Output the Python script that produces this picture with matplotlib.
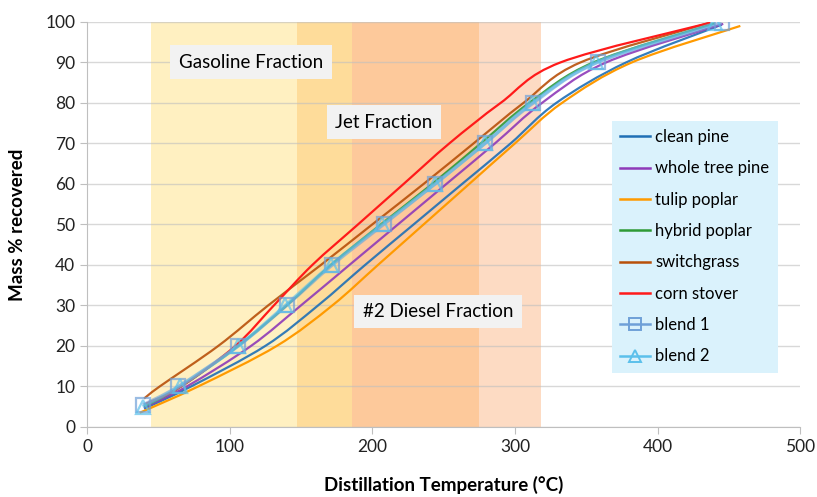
import numpy as np
import matplotlib.pyplot as plt
from matplotlib.path import Path
from matplotlib.patches import PathPatch
from matplotlib.lines import Line2D

plt.rcParams['font.family'] = ['Lato', 'DejaVu Sans']

# Mass % recovered levels
pct = [5, 10, 20, 30, 40, 50, 60, 70, 80, 90, 99.5]

# Distillation temperature (°C) at each level
clean_pine = [40, 73, 125, 162, 195, 229, 263, 297, 329, 378, 445]
whole_tree_pine = [40, 70, 115, 150, 184, 218, 252, 286, 319, 364, 446]
tulip_poplar = [37, 78, 133, 172, 204, 236, 268, 300, 333, 382, 458]
hybrid_poplar = [40, 66, 106, 140, 171, 206, 242, 276, 310, 355, 440]
switchgrass = [40, 51, 92, 127, 164, 200, 236, 271, 306, 346, 437]
corn_stover = [40, 66, 104, 131, 158, 190, 222, 254, 290, 332, 437]
blend_1 = [39, 64, 106, 140, 172, 208, 244, 279, 313, 358, 445]
blend_2 = [39, 65, 106, 139, 171, 207, 244, 279, 312, 357, 440]

# first / last recovered % differ a little per series
pct_start = {'clean pine': 4.5, 'whole tree pine': 4.8, 'tulip poplar': 3.5,
             'hybrid poplar': 5.0, 'switchgrass': 7.0, 'corn stover': 5.5,
             'blend 1': 5.4, 'blend 2': 5.0}
pct_end = {'clean pine': 99.3, 'whole tree pine': 99.5, 'tulip poplar': 99.0,
           'hybrid poplar': 99.6, 'switchgrass': 99.8, 'corn stover': 99.8,
           'blend 1': 99.7, 'blend 2': 99.6}

# fraction bands (°C)
bands = [(45, 147, '#FFF0C1'), (147, 186, '#FEDC9A'),
         (186, 275, '#FDC99B'), (275, 318, '#FDDBC3')]


def smooth_path(xs, ys):
    # Excel-like smoothed line: Catmull-Rom converted to cubic Beziers
    pts = np.column_stack([xs, ys]).astype(float)
    n = len(pts)
    verts = [pts[0]]
    codes = [Path.MOVETO]
    for i in range(n - 1):
        p0 = pts[i - 1] if i > 0 else pts[i]
        p1 = pts[i]
        p2 = pts[i + 1]
        p3 = pts[i + 2] if i + 2 < n else pts[i + 1]
        verts += [p1 + (p2 - p0) / 6, p2 - (p3 - p1) / 6, p2]
        codes += [Path.CURVE4] * 3
    return Path(verts, codes)


fig = plt.figure(figsize=(8.17, 4.97), dpi=100)
ax = fig.add_axes([0.1065, 0.141, 0.873, 0.815])

for lo, hi, c in bands:
    ax.axvspan(lo, hi, color=c, lw=0, zorder=0)

ax.set_xlim(0, 500)
ax.set_ylim(0, 100)
ax.set_xticks(range(0, 501, 100))
ax.set_yticks(range(0, 101, 10))
ax.yaxis.grid(True, color='#BFBFBF', lw=1, alpha=0.6, zorder=1)
ax.set_axisbelow(False)
for s in ['top', 'right']:
    ax.spines[s].set_visible(False)
for s in ['left', 'bottom']:
    ax.spines[s].set_color('#BFBFBF')
ax.tick_params(colors='#BFBFBF', labelcolor='#222222', labelsize=12.5, length=5)

series = [
    ('clean pine', clean_pine, '#1F6FB5', None, 0.9),
    ('whole tree pine', whole_tree_pine, '#8E3AB8', None, 0.9),
    ('tulip poplar', tulip_poplar, '#FF9A00', None, 1.0),
    ('hybrid poplar', hybrid_poplar, '#2E9A35', None, 0.9),
    ('switchgrass', switchgrass, '#B8500A', None, 0.9),
    ('corn stover', corn_stover, '#FF1A1A', None, 1.0),
    ('blend 1', blend_1, '#6FA0D8', 's', 0.6),
    ('blend 2', blend_2, '#5BC0EB', '^', 0.6),
]

handles = []
for name, temps, color, marker, alpha in series:
    ys = list(pct)
    ys[0] = pct_start[name]
    ys[-1] = pct_end[name]
    lw = 2.4 if marker else 1.6
    patch = PathPatch(smooth_path(temps, ys), fill=False, edgecolor=color,
                      lw=lw, alpha=alpha, zorder=3)
    ax.add_patch(patch)
    if marker:
        ax.plot(temps, ys, linestyle='none', marker=marker, ms=10,
                mfc='none', mec=color, mew=1.6, alpha=alpha + 0.1, zorder=4)
    handles.append(Line2D([], [], color=color, lw=1.8, marker=marker,
                          ms=8, mfc='none', mec=color, mew=1.4, label=name))

box = dict(boxstyle='square,pad=0.45', fc='#F2F2F2', ec='none')
ax.text(115, 90, 'Gasoline Fraction', fontsize=13.5, ha='center', va='center',
        bbox=box, zorder=5)
ax.text(208, 75.2, 'Jet Fraction', fontsize=13.5, ha='center', va='center',
        bbox=box, zorder=5)
ax.text(246, 28.5, '#2 Diesel Fraction', fontsize=13.5, ha='center', va='center',
        bbox=box, zorder=5)

leg = ax.legend(handles=handles, loc='upper left', bbox_to_anchor=(0.736, 0.756),
                fontsize=12, frameon=True, fancybox=False, handlelength=1.8,
                handletextpad=0.3, labelspacing=0.92, borderpad=0.5,
                borderaxespad=0)
leg.get_frame().set_facecolor('#DAF2FC')
leg.get_frame().set_edgecolor('none')
leg.get_frame().set_alpha(1)
leg.set_zorder(6)

ax.set_xlabel('Distillation Temperature (°C)', fontsize=13.5, fontweight='bold',
              labelpad=15)
ax.set_ylabel('Mass % recovered', fontsize=13.5, fontweight='bold', labelpad=14)

fig.savefig('out.png', dpi=100)
